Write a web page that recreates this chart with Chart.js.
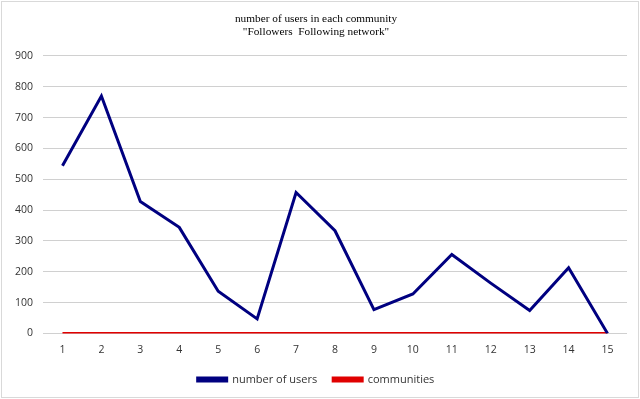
<!DOCTYPE html>
<html>
<head>
<meta charset="utf-8">
<script src="https://cdn.jsdelivr.net/npm/chart.js@4"></script>
<style>
  html, body { margin: 0; padding: 0; background: #fff; }
  #wrap { position: absolute; left: 1px; top: 1px; width: 636px; height: 395px; border: 1px solid #d9d9d9; }
</style>
</head>
<body>
<div id="wrap"><canvas id="chart"></canvas></div>
<script>
// ---------- DATA ----------
const communities = ["1","2","3","4","5","6","7","8","9","10","11","12","13","14","15"];
const users = [544, 770, 428, 344, 137, 47, 457, 333, 77, 128, 256, 163, 74, 213, 0];
const communityLine = [0,0,0,0,0,0,0,0,0,0,0,0,0,0,0];
const titleLines = ["number of users in each community", "\"Followers  Following network\""];

// ---------- CHART ----------
new Chart(document.getElementById("chart"), {
  type: "line",
  data: {
    labels: communities,
    datasets: [
      {
        label: "number of users",
        data: users,
        borderColor: "#000080",
        backgroundColor: "#000080",
        borderWidth: 3,
        pointRadius: 0,
        tension: 0
      },
      {
        label: "communities",
        data: communityLine,
        borderColor: "#e00000",
        backgroundColor: "#e00000",
        borderWidth: 3,
        pointRadius: 0,
        tension: 0
      }
    ]
  },
  options: {
    responsive: true,
    maintainAspectRatio: false,
    animation: false,
    layout: { padding: { left: 3, right: 11, top: 9, bottom: 2 } },
    plugins: {
      title: {
        display: true,
        text: titleLines,
        color: "#000",
        font: { family: "Liberation Serif", size: 11.3, weight: "normal", lineHeight: 1.15 },
        padding: { top: 2, bottom: 17 }
      },
      legend: {
        position: "bottom",
        labels: {
          color: "#333",
          font: { family: "Open Sans", size: 11 },
          boxWidth: 29,
          boxHeight: 3,
          padding: 16
        }
      }
    },
    scales: {
      x: {
        offset: true,
        grid: { display: false },
        border: { display: false },
        ticks: { color: "#333", font: { family: "Open Sans", size: 10.5 }, padding: 2 }
      },
      y: {
        min: 0,
        max: 900,
        ticks: { stepSize: 100, color: "#333", font: { family: "Open Sans", size: 10.5 }, padding: 10 },
        grid: { color: "#d0d0d0", lineWidth: 1, drawTicks: false },
        border: { display: false }
      }
    }
  }
});
</script>
</body>
</html>
